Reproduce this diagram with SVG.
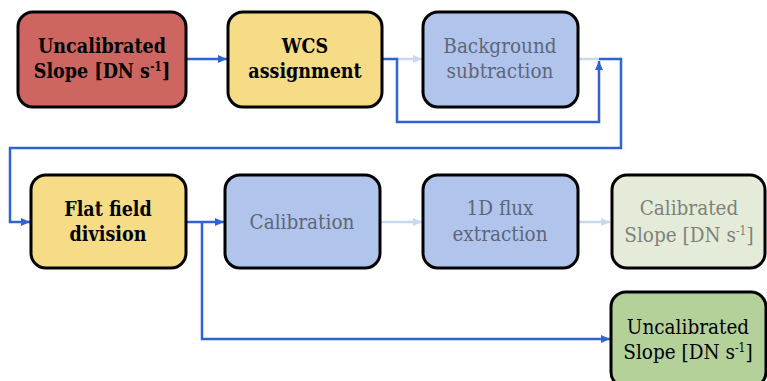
<svg xmlns="http://www.w3.org/2000/svg" width="767" height="381" viewBox="0 0 767 381">
<defs>
<style>
.box{stroke:#000;stroke-width:3}
.red{fill:#cd6660}.yel{fill:#f7dc88}.blu{fill:#b0c4ec}.lgr{fill:#e4ecd9}.grn{fill:#b3d198}
text{font-family:"DejaVu Serif",serif;font-size:20.5px;font-stretch:semi-condensed;text-anchor:middle}
.b{font-weight:bold;fill:#000;font-size:19.5px;font-stretch:condensed}
.g{fill:#5e6679}
.lg{fill:#7e8279}
.k{fill:#000}
.sup{font-size:12px}
.dk{fill:none;stroke:#2d63d3;stroke-width:2.5}
.lt{fill:none;stroke:#c8d8f3;stroke-width:2.5}
</style>
<marker id="ad" markerUnits="userSpaceOnUse" markerWidth="10" markerHeight="10" refX="9" refY="5" orient="auto"><path d="M0,1 L9,5 L0,9 Z" fill="#2d63d3"/></marker>
<marker id="al" markerUnits="userSpaceOnUse" markerWidth="10" markerHeight="10" refX="9" refY="5" orient="auto"><path d="M0,1 L9,5 L0,9 Z" fill="#c8d8f3"/></marker>
</defs>

<g id="connectors">
<path class="dk" d="M186,59 H227" marker-end="url(#ad)"/>
<path class="lt" d="M397,59 H422" marker-end="url(#al)"/>
<path class="dk" d="M382,59 H397 V122 H599 V61" marker-end="url(#ad)"/>
<path class="lt" d="M578,59 H599"/>
<path class="dk" d="M599,59 H621 V148 H10 V222 H30" marker-end="url(#ad)"/>
<path class="dk" d="M186,222 H224" marker-end="url(#ad)"/>
<path class="dk" d="M202,222 V339 H610" marker-end="url(#ad)"/>
<path class="lt" d="M381,222 H422" marker-end="url(#al)"/>
<path class="lt" d="M578,222 H610" marker-end="url(#al)"/>
</g>

<g id="n1"><rect class="box red" x="18" y="12" width="168" height="95" rx="15"/>
<text class="b" x="102" y="53">Uncalibrated</text>
<text class="b" x="102" y="78">Slope [DN s<tspan class="sup" dy="-7">-1</tspan><tspan dy="7">]</tspan></text></g>

<g id="n2"><rect class="box yel" x="228" y="12" width="154" height="95" rx="15"/>
<text class="b" x="305" y="53">WCS</text>
<text class="b" x="305" y="78">assignment</text></g>

<g id="n3"><rect class="box blu" x="423" y="12" width="155" height="95" rx="15"/>
<text class="g" x="500" y="53">Background</text>
<text class="g" x="500" y="78">subtraction</text></g>

<g id="n4"><rect class="box yel" x="31" y="175" width="155" height="93" rx="15"/>
<text class="b" x="108" y="216">Flat field</text>
<text class="b" x="108" y="241">division</text></g>

<g id="n5"><rect class="box blu" x="225" y="175" width="155" height="93" rx="15"/>
<text class="g" x="302" y="229">Calibration</text></g>

<g id="n6"><rect class="box blu" x="423" y="175" width="155" height="93" rx="15"/>
<text class="g" x="500" y="215">1D flux</text>
<text class="g" x="500" y="241">extraction</text></g>

<g id="n7"><rect class="box lgr" x="612" y="175" width="153" height="93" rx="15"/>
<text class="lg" x="689" y="215">Calibrated</text>
<text class="lg" x="689" y="242">Slope [DN s<tspan class="sup" dy="-7">-1</tspan><tspan dy="7">]</tspan></text></g>

<g id="n8"><rect class="box grn" x="611" y="292" width="155" height="95" rx="15"/>
<text class="k" x="688" y="334">Uncalibrated</text>
<text class="k" x="688" y="359">Slope [DN s<tspan class="sup" dy="-7">-1</tspan><tspan dy="7">]</tspan></text></g>
</svg>
